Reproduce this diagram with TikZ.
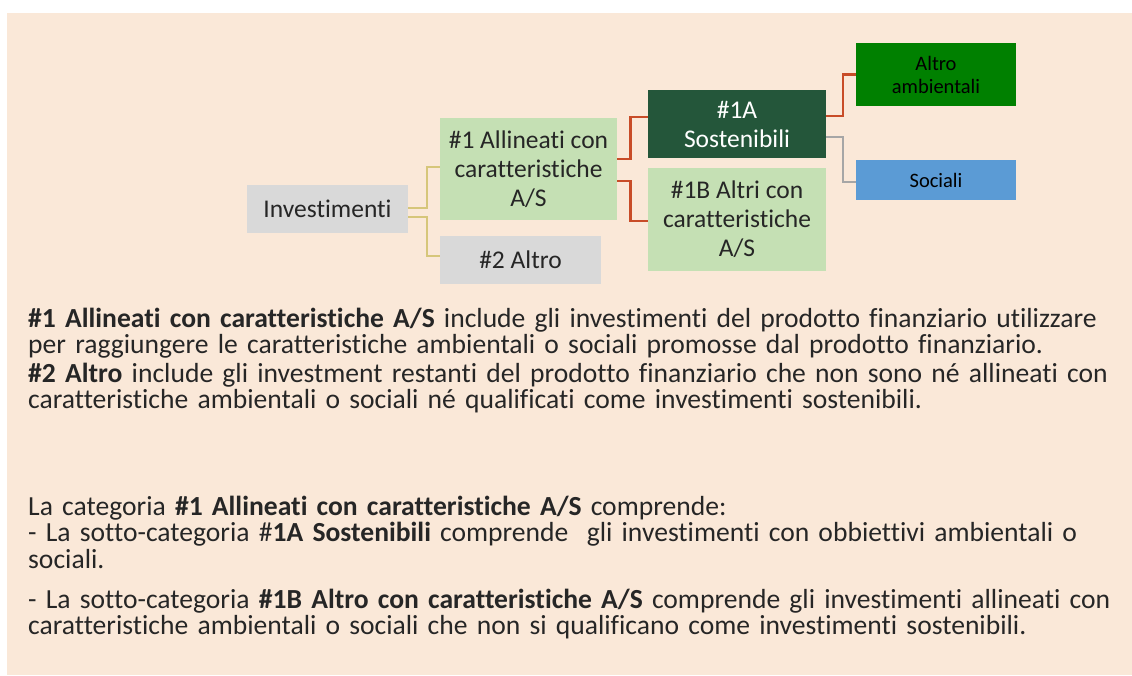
\documentclass[tikz,border=0pt]{standalone}
\usepackage{fontspec}
\setmainfont{Carlito}[Ligatures=NoCommon]
\definecolor{bgpeach}{RGB}{250,232,216}
\definecolor{txtgrey}{RGB}{38,38,38}
\definecolor{boxgrey}{RGB}{217,217,217}
\definecolor{boxlgreen}{RGB}{197,224,180}
\definecolor{boxdgreen}{RGB}{36,86,58}
\definecolor{boxgreen}{RGB}{0,128,0}
\definecolor{boxblue}{RGB}{91,155,213}
\definecolor{lnkyellow}{RGB}{214,198,122}
\definecolor{lnkred}{RGB}{200,76,40}
\definecolor{lnkgrey}{RGB}{166,166,166}

\begin{document}
\begin{tikzpicture}[
  x=1pt, y=-1pt,
  font=\fontsize{25.5}{29}\selectfont,
  bx/.style={inner sep=0pt, align=center, text=txtgrey},
  gr/.style={bx, fill=boxgrey, minimum width=161pt, minimum height=48pt},
  lg/.style={bx, fill=boxlgreen, minimum width=177.5pt, minimum height=102.5pt},
  dg/.style={bx, fill=boxdgreen, text=white, minimum width=178pt, minimum height=68pt},
  sm/.style={bx, text=black, minimum width=160pt, font=\fontsize{20.5}{23}\selectfont},
  body/.style={inner sep=0pt, anchor=base west, text width=1102pt, align=left, text=txtgrey,
               font=\fontsize{27.6}{26.5}\selectfont},
  ey/.style={draw=lnkyellow, line width=1.6pt},
  er/.style={draw=lnkred, line width=2.2pt},
  eg/.style={draw=lnkgrey, line width=1.6pt}
]

\useasboundingbox (0,0) rectangle (1132,675);
\fill[bgpeach] (7,13) rectangle (1132,675);

% tree
\node[gr] (inv) at (327.5,209)    {Investimenti};
\node[lg] (allin) at (528.5,169)  {\#1 Allineati con\\caratteristiche\\A/S};
\node[gr] (altro) at (520.5,260)  {\#2 Altro};
\node[dg] (sost) at (737,124)     {\#1A\\Sostenibili};
\node[lg] (altri) at (737,219.5)  {\#1B Altri con\\caratteristiche\\A/S};
\node[sm, fill=boxgreen, minimum height=63pt] (amb) at (936,74.5) {Altro\\ambientali};
\node[sm, fill=boxblue, minimum height=40pt] (soc) at (936,180)   {Sociali};

% connectors
\draw[ey] ([yshift=1pt]inv.east) -- ++(19,0) |- ([yshift=2pt]allin.west);
\draw[ey] ([yshift=-8pt]inv.east) -- ++(19,0) |- ([yshift=4pt]altro.west);
\draw[er] ([yshift=10pt]allin.east) -- ++(13,0) |- ([yshift=7pt]sost.west);
\draw[er] ([yshift=-12pt]allin.east) -- ++(13,0) |- ([yshift=-1.5pt]altri.west);
\draw[er] ([yshift=8pt]sost.east) -- ++(17,0) |- (amb.west);
\draw[eg] ([yshift=-13pt]sost.east) -- ++(17,0) |- ([yshift=-2pt]soc.west);

% explanation
\node[body] (p1) at (28,327) {\textbf{\#1 Allineati con caratteristiche A/S} include gli investimenti del prodotto finanziario utilizzare\\
per raggiungere le caratteristiche ambientali o sociali promosse dal prodotto finanziario.};
\node[body] (p2) at (28,382) {\textbf{\#2 Altro} include gli investment restanti del prodotto finanziario che non sono né allineati con\\
caratteristiche ambientali o sociali né qualificati come investimenti sostenibili.};
\node[body] (p3) at (28,515) {La categoria \textbf{\#1 Allineati con caratteristiche A/S} comprende:\\
- La sotto-categoria \#\textbf{1A Sostenibili} comprende\ \ gli investimenti con obbiettivi ambientali o\\
sociali.\\[13.5pt]
- La sotto-categoria \textbf{\#1B Altro con caratteristiche A/S} comprende gli investimenti allineati con\\
caratteristiche ambientali o sociali che non si qualificano come investimenti sostenibili.};

\end{tikzpicture}
\end{document}
